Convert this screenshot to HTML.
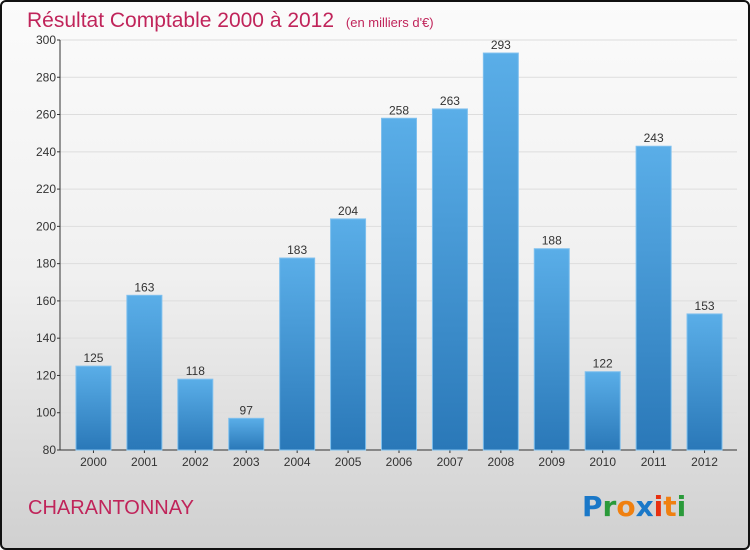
<!DOCTYPE html>
<html><head><meta charset="utf-8"><style>
body{margin:0;width:750px;height:550px;overflow:hidden;font-family:"Liberation Sans",sans-serif}
#wrap{position:absolute;left:0;top:0;width:746px;height:546px;border:2px solid #111;border-radius:6px;background:linear-gradient(#fbfbfb 0%,#f0f0f0 50%,#d0d0d0 100%);overflow:hidden}
</style></head><body>
<div id="wrap">
<svg id="chart" width="750" height="550" style="position:absolute;left:-2px;top:-2px">
<defs><linearGradient id="bg" x1="0" y1="0" x2="0" y2="1"><stop offset="0" stop-color="#5aaee8"/><stop offset="1" stop-color="#2a78b8"/></linearGradient></defs>
<text x="27" y="27" font-size="21" fill="#c0245a">Résultat Comptable 2000 à 2012 <tspan font-size="13" dx="6">(en milliers d'€)</tspan></text>
<text x="28" y="514" font-size="20" fill="#c0245a">CHARANTONNAY</text>
<g font-size="28" font-weight="bold" font-family="'DejaVu Sans',sans-serif">
<text x="582" y="516"><tspan fill="#1a78c8">P</tspan><tspan fill="#2a9a3a">r</tspan><tspan fill="#f08010">o</tspan><tspan fill="#1a78c8">x</tspan><tspan fill="#e83010">i</tspan><tspan fill="#f08010">t</tspan><tspan fill="#2a9a3a">i</tspan></text></g>
<g id="axes"></g><g id="bars"></g>
</svg></div>
<script>
const years=["2000","2001","2002","2003","2004","2005","2006","2007","2008","2009","2010","2011","2012"];
const values=[125,163,118,97,183,204,258,263,293,188,122,243,153];
const ticks=[80,100,120,140,160,180,200,220,240,260,280,300];
const NS="http://www.w3.org/2000/svg";
const x0=60,x1=737,yTop=40,yBot=450,vMin=80,vMax=300;
const y=v=>yBot-(v-vMin)*(yBot-yTop)/(vMax-vMin);
const step=(x1-x0-15)/years.length, xc=i=>x0+8+step*(i+0.5);
function mk(t,a,p){const e=document.createElementNS(NS,t);for(const k in a)e.setAttribute(k,a[k]);p.appendChild(e);return e;}
const ax=document.getElementById('axes'),bg=document.getElementById('bars');
ticks.forEach(t=>{
const g=mk('line',{x1:x0,x2:x1,y1:y(t),y2:y(t),stroke:'#dddddd','stroke-width':1},ax);


const l=mk('text',{x:x0-4,y:y(t)+4,'text-anchor':'end','font-size':12,fill:'#333'},ax);
l.textContent=t;


mk('line',{x1:x0-3,x2:x0,y1:y(t),y2:y(t),stroke:'#333'},ax);
});
mk('line',{x1:x0,x2:x0,y1:yTop,y2:yBot,stroke:'#333'},ax);
mk('line',{x1:x0,x2:x1,y1:yBot,y2:yBot,stroke:'#333'},ax);
years.forEach((yr,i)=>{
const c=xc(i),w=35;
const r=mk('rect',{x:c-w/2,y:y(values[i]),width:w,height:yBot-y(values[i]),fill:'url(#bg)',stroke:'#7fc0ee','stroke-width':1},bg);


const v=mk('text',{x:c,y:y(values[i])-4,'text-anchor':'middle','font-size':12,fill:'#333'},bg);
v.textContent=values[i];


const t=mk('text',{x:c,y:yBot+16,'text-anchor':'middle','font-size':12,fill:'#333'},bg);
t.textContent=yr;


mk('line',{x1:c,x2:c,y1:yBot,y2:yBot+3,stroke:'#333'},ax);
});
</script>
</body></html>
